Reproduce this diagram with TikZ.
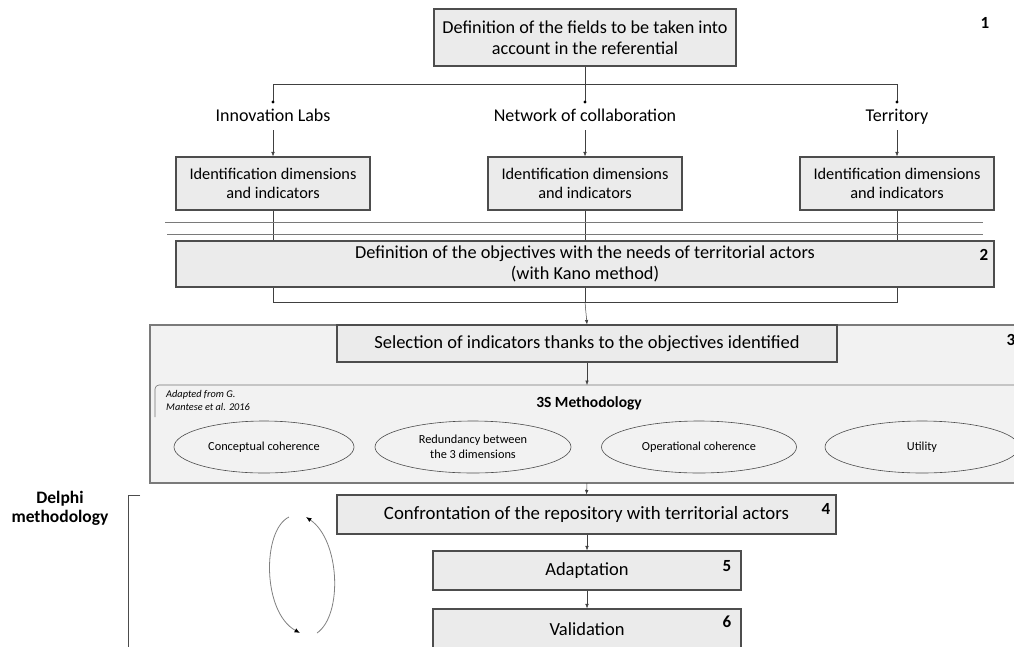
\documentclass[tikz,border=0pt]{standalone}
\usepackage{fontspec}
\setmainfont{Carlito}
\usetikzlibrary{arrows.meta,shapes.geometric}
\definecolor{boxfill}{HTML}{EBEBEB}
\definecolor{framefill}{HTML}{F2F2F2}
\definecolor{edge}{HTML}{4D4D4D}
\definecolor{lin}{HTML}{7A7A7A}
\tikzset{
  stepbox/.style={draw=edge, fill=boxfill, line width=1.1pt, inner sep=0pt, align=center},
  conn/.style={draw=black!75, line width=0.5pt},
  arr/.style={conn, -{Latex[length=4.5pt,width=3.5pt]}},
  lab/.style={font=\fontsize{18}{20}\selectfont, inner sep=1pt, text height=12.5pt, text depth=4pt},
  num/.style={font=\fontsize{17}{19}\selectfont\bfseries, inner sep=0pt},
  ell/.style={draw=black!70, ellipse, line width=0.6pt, fill=framefill, align=center, inner sep=0pt, font=\fontsize{12.3}{15}\selectfont},
  loop/.style={draw=black!50, line width=0.8pt},
  looptip/.style={-{Latex[length=5.5pt,width=4.5pt,color=black]}},
}
\begin{document}
\begin{tikzpicture}[x=1pt,y=-1pt]
\useasboundingbox (0,0) rectangle (1014,646);
\clip (0,0) rectangle (1014,646);
% top box
\node[stepbox, minimum width=302pt, minimum height=57pt, font=\fontsize{18.2}{21}\selectfont] (top) at (585,37.5) {Definition of the fields to be taken into\\account in the referential};
\node[num] (n1) at (985,23) {1};
\coordinate (hc) at (585,84);
\coordinate (hl) at (273,84);
\coordinate (hr) at (897,84);
\coordinate (d1) at (273,102);
\coordinate (d2) at (585,102);
\coordinate (d3) at (897,102);
\draw[conn] (top.south) -- (hc);
\draw[conn] (hl) -- (hr);
\draw[conn] (hl) -- (d1);
\draw[conn] (hc) -- (d2);
\draw[conn] (hr) -- (d3);
\foreach \p in {d1,d2,d3} \fill (\p) circle (1.6pt);
\node[lab] (l1) at (273,117) {Innovation Labs};
\node[lab] (l2) at (585,117) {Network of collaboration};
\node[lab] (l3) at (897,117) {Territory};
% identification boxes
\foreach \i/\x in {1/273,2/585,3/897}{
  \node[stepbox, minimum width=194pt, minimum height=53pt, font=\fontsize{16.3}{19}\selectfont] (id\i) at (\x,183.5) {Identification dimensions\\and indicators};
}
\draw[arr] (l1.south) ++(0,4) -- (id1.north);
\draw[arr] (l2.south) ++(0,4) -- (id2.north);
\draw[arr] (l3.south) ++(0,4) -- (id3.north);
% lines through objectives box
\coordinate (b1) at (273,302);
\coordinate (b2) at (585,302);
\coordinate (b3) at (897,302);
\draw[conn] (id1.south) -- (b1) -- (b3) -- (id3.south);
\draw[conn] (id2.south) -- (b2);
\coordinate (s1l) at (165,222); \coordinate (s1r) at (983,222);
\coordinate (s2l) at (167,234); \coordinate (s2r) at (983,234);
\draw[draw=lin, line width=0.9pt] (s1l) -- (s1r);
\draw[draw=lin, line width=0.9pt] (s2l) -- (s2r);
\node[stepbox, minimum width=818pt, minimum height=46pt, font=\fontsize{18.3}{21}\selectfont] (obj) at (585,264) {Definition of the objectives with the needs of territorial actors\\(with Kano method)};
\node[num] (n2) at (984,255) {2};
% frame 3
\draw[draw=lin, fill=framefill, line width=1.8pt] (150,325) rectangle (1030,483);
\node[stepbox, minimum width=500pt, minimum height=37pt, font=\fontsize{18.5}{21}\selectfont] (sel) at (587,343.5) {Selection of indicators thanks to the objectives identified};
\node[num] (n3) at (1011,340) {3};
\draw[arr] (b2) -- (sel.north);
\coordinate (fr) at (587,385);
\draw[draw=black!55, line width=0.6pt, rounded corners=4pt] (155,417) -- (155,385) -- (1020,385);
\draw[arr] (sel.south) -- (fr);
\node[font=\fontsize{10.3}{13}\selectfont\itshape, align=left, anchor=west, inner sep=0pt] (adapt) at (166,400) {Adapted from G.\\Mantese et al. 2016};
\node[font=\fontsize{15.5}{17}\selectfont\bfseries, inner sep=0pt] (meth) at (589,403) {3S Methodology};
\node[ell, minimum width=180pt, minimum height=52pt] (e1) at (264,447) {Conceptual coherence};
\node[ell, minimum width=196pt, minimum height=52pt] (e2) at (473,447) {Redundancy between\\the 3 dimensions};
\node[ell, minimum width=195pt, minimum height=52pt] (e3) at (699,447) {Operational coherence};
\node[ell, minimum width=194pt, minimum height=52pt] (e4) at (922,447) {Utility};
\coordinate (fb) at (587,483);
% steps 4-6
\node[stepbox, minimum width=499pt, minimum height=39pt, font=\fontsize{18.8}{21}\selectfont] (s4) at (586.5,514.5) {Confrontation of the repository with territorial actors};
\node[num] (n4) at (826,509) {4};
\draw[arr] (fb) -- (s4.north);
\node[stepbox, minimum width=308pt, minimum height=39pt, font=\fontsize{18.5}{21}\selectfont] (s5) at (587,570.5) {Adaptation};
\node[num] (n5) at (727,566) {5};
\draw[arr] (s4.south -| s5.north) -- (s5.north);
\node[stepbox, minimum width=308pt, minimum height=60pt] (s6) at (587,639) {};
\node[font=\fontsize{18.5}{21}\selectfont, inner sep=0pt] (t6) at (587,629) {Validation};
\node[num] (n6) at (727,622) {6};
\draw[arr] (s5.south) -- (s6.north);
% Delphi
\node[font=\fontsize{17.5}{19}\selectfont\bfseries, align=center, inner sep=0pt] (delphi) at (60,508) {Delphi\\methodology};
\coordinate (bt) at (140,495);
\coordinate (bc) at (128,495);
\coordinate (bb) at (128,650);
\draw[conn, draw=black!70] (bt) -- (bc) -- (bb);
\coordinate (la) at (289,517);
\coordinate (lb) at (300,633);
\coordinate (ra) at (317,633);
\coordinate (rb) at (306,517);
\draw[loop, looptip] (la) .. controls (262,530) and (262,612) .. (lb);
\draw[loop, looptip] (ra) .. controls (343,615) and (340,540) .. (rb);
\end{tikzpicture}
\end{document}
